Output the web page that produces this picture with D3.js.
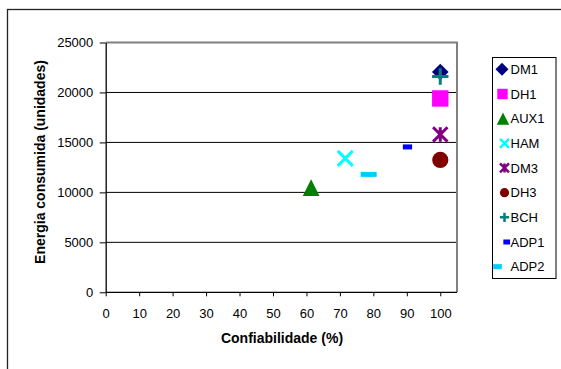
<!DOCTYPE html>
<html><head><meta charset="utf-8">
<script src="https://cdn.jsdelivr.net/npm/d3@7"></script>
<style>body{margin:0;background:#fff;} svg{display:block;font-family:"Liberation Sans",Arial,sans-serif;}</style>
</head><body>
<svg id="c" width="561" height="369"></svg>
<script>
const series = ["DM1","DH1","AUX1","HAM","DM3","DH3","BCH","ADP1","ADP2"];
const xValues = [100,100,61.4,71.6,100,100,100,90.2,78.6];
const yValues = [22050,19400,10470,13400,15800,13250,21600,14550,11800];
const colors = ["#000080","#ff00ff","#008000","#00ffff","#800080","#800000","#008080","#0000ff","#00ccff"];
const shapes = ["diamond","square","triangle","x","star","circle","plus","dash","longdash"];
const xTicks = [0,10,20,30,40,50,60,70,80,90,100];
const yTicks = [0,5000,10000,15000,20000,25000];

const FONT = "Liberation Sans, Arial, sans-serif";
const svg = d3.select("#c");
const L=105.7, R=457, T=42.5, B=292.3;
const x = d3.scaleLinear().domain([0,105]).range([L,R]);
const y = d3.scaleLinear().domain([0,25000]).range([B,T]);

// outer border
svg.append("rect").attr("x",7.5).attr("y",9.5).attr("width",560).attr("height",370)
  .attr("fill","none").attr("stroke","#222").attr("stroke-width",1.3);

// gridlines
svg.append("g").selectAll("line").data(yTicks.filter(d=>d>0 && d<25000)).join("line")
  .attr("x1",L).attr("x2",R).attr("y1",d=>y(d)).attr("y2",d=>y(d))
  .attr("stroke","#000").attr("stroke-width",1);

// plot border top/right gray
svg.append("path").attr("d",`M${L},${T}H${R}V${B}`).attr("fill","none").attr("stroke","#808080").attr("stroke-width",2);

// axes
const xAxis = svg.append("g").attr("transform",`translate(0,${B})`)
  .call(d3.axisBottom(x).tickValues(xTicks).tickFormat(d3.format("d")).tickSize(4).tickPadding(12).tickSizeOuter(0));
const yAxis = svg.append("g").attr("transform",`translate(${L},0)`)
  .call(d3.axisLeft(y).tickValues(yTicks).tickFormat(d3.format("d")).tickSize(6).tickPadding(6.4).tickSizeOuter(0));
[xAxis,yAxis].forEach(a=>{
  a.attr("font-family",FONT).attr("font-size",13);
  a.select(".domain").attr("stroke","#000").attr("stroke-width",1.3);
  a.selectAll(".tick line").attr("stroke","#000");
  a.selectAll("text").attr("fill","#000");
});
xAxis.select(".domain").attr("d",`M${L},0H${R}`);

// axis titles
svg.append("text").attr("x",282).attr("y",343).attr("text-anchor","middle")
  .attr("font-size",14).attr("font-weight","bold").text("Confiabilidade (%)");
svg.append("text").attr("transform",`translate(45,162) rotate(-90)`).attr("text-anchor","middle")
  .attr("font-size",14).attr("font-weight","bold").text("Energia consumida (unidades)");

function drawMarker(g, shape, color, s, sw){
  switch(shape){
    case "diamond": g.append("path").attr("d",`M0,${-s}L${s},0L0,${s}L${-s},0Z`).attr("fill",color); break;
    case "square": g.append("rect").attr("x",-s).attr("y",-s).attr("width",2*s).attr("height",2*s).attr("fill",color); break;
    case "triangle": g.append("path").attr("d",`M0,${-s}L${s},${s}L${-s},${s}Z`).attr("fill",color); break;
    case "x": g.append("path").attr("d",`M${-s},${-s}L${s},${s}M${s},${-s}L${-s},${s}`).attr("stroke",color).attr("stroke-width",sw).attr("fill","none"); break;
    case "star": g.append("path").attr("d",`M${-s},${-s}L${s},${s}M${s},${-s}L${-s},${s}M0,${-s}L0,${s}`).attr("stroke",color).attr("stroke-width",sw).attr("fill","none"); break;
    case "circle": g.append("circle").attr("r",s).attr("fill",color); break;
    case "plus": g.append("path").attr("d",`M${-s},0L${s},0M0,${-s}L0,${s}`).attr("stroke",color).attr("stroke-width",sw).attr("fill","none"); break;
    case "dash": g.append("rect").attr("x",-s*0.58).attr("y",-2.5).attr("width",s*1.16).attr("height",5).attr("fill",color); break;
    case "longdash": g.append("rect").attr("x",-s).attr("y",-2.5).attr("width",s*2).attr("height",5).attr("fill",color); break;
  }
}
const sizes = {diamond:8.3,square:8.2,triangle:8.4,x:7.5,star:7.2,circle:8.1,plus:8.2,dash:8,longdash:8};
const pts = svg.append("g");
series.forEach((s,i)=>{
  const g = pts.append("g").attr("transform",`translate(${x(xValues[i])},${y(yValues[i])})`);
  drawMarker(g, shapes[i], colors[i], sizes[shapes[i]], 3);
});

// legend
svg.append("rect").attr("x",492.5).attr("y",57.5).attr("width",63.5).attr("height",221)
  .attr("fill","#fff").attr("stroke","#000").attr("stroke-width",1);
const lsizes = {diamond:6.5,square:5.2,triangle:6.2,x:4.5,star:4.5,circle:4.6,plus:4.6,dash:5.8,longdash:4.3};
const lx = {diamond:502,square:502.5,triangle:503,x:504.5,star:504.5,circle:504.5,plus:504.5,dash:506.7,longdash:497.5};
series.forEach((s,i)=>{
  const cy = 69.3 + i*24.67;
  const g = svg.append("g").attr("transform",`translate(${lx[shapes[i]]},${cy})`);
  drawMarker(g, shapes[i], colors[i], lsizes[shapes[i]], 2.5);
  svg.append("text").attr("x",510.5).attr("y",cy+4.7).attr("font-size",13).attr("font-family",FONT).text(s);
});
</script>
</body></html>
